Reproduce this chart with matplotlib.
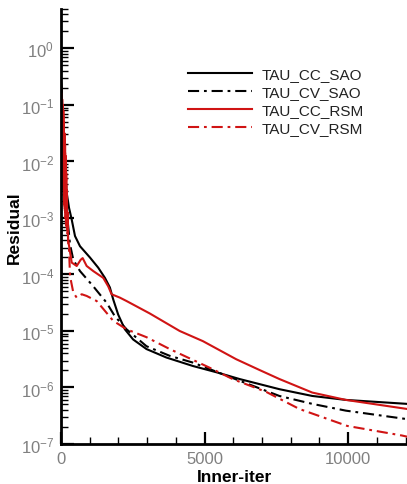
import matplotlib
matplotlib.use("Agg")
import numpy as np
import matplotlib.pyplot as plt
from matplotlib.ticker import LogLocator, MultipleLocator, NullFormatter, FixedLocator

# residual histories, read as log10(residual) at given inner iterations
it_cc_sao = [0, 17, 80, 139, 208, 278, 372, 486, 660, 1007, 1295, 1528, 1701, 1816,
             1990, 2222, 2510, 2976, 3670, 4594, 5406, 6215, 7604, 8750, 9920, 12050]
lg_cc_sao = [-0.6, -0.70, -1.62, -2.24, -2.59, -2.82, -3.03, -3.32, -3.50, -3.70, -3.88,
             -4.06, -4.23, -4.44, -4.71, -4.97, -5.15, -5.32, -5.47, -5.62, -5.73, -5.85,
             -6.03, -6.15, -6.22, -6.29]

it_cv_sao = [0, 17, 70, 139, 208, 313, 427, 660, 1122, 1587, 1875, 2281, 2976, 3785,
             4594, 6215, 7604, 8750, 9920, 12050]
lg_cv_sao = [-0.6, -0.70, -1.62, -2.41, -2.94, -3.47, -3.74, -3.94, -4.21, -4.50, -4.74,
             -4.97, -5.27, -5.44, -5.56, -5.88, -6.15, -6.29, -6.41, -6.56]

# the RSM runs oscillate strongly during the first ~250 iterations
it_cc_rsm = [0, 10, 20, 30, 40, 50, 60, 70, 80, 90, 100, 110, 120, 130, 140, 150, 160,
             170, 180, 190, 200, 215, 230, 243, 372, 545, 684, 753, 892, 1122, 1469,
             1642, 1760, 2049, 2281, 3090, 4132, 4941, 5521, 6101, 6910, 7604, 8750,
             9920, 12050]
lg_cc_rsm = [-0.65, -1.6, -0.8, -2.0, -0.9, -2.2, -1.0, -2.4, -1.1, -2.5, -1.3, -2.7,
             -1.5, -2.8, -1.7, -2.9, -1.9, -3.0, -2.2, -3.1, -2.5, -3.2, -2.9, -3.38,
             -3.79, -3.85, -3.74, -3.71, -3.85, -3.94, -4.06, -4.21, -4.35, -4.41, -4.47,
             -4.69, -5.00, -5.18, -5.34, -5.50, -5.69, -5.85, -6.09, -6.22, -6.38]

it_cv_rsm = [0, 10, 20, 30, 40, 50, 60, 70, 80, 90, 100, 110, 120, 130, 140, 150, 160,
             170, 180, 190, 200, 215, 230, 250, 278, 313, 427, 545, 719, 892, 1240,
             1587, 1816, 2281, 2976, 3785, 5174, 5972, 7153, 8299, 9965, 11875, 12050]
lg_cv_rsm = [-0.65, -1.7, -0.9, -2.1, -1.0, -2.3, -1.1, -2.5, -1.2, -2.6, -1.4, -2.8,
             -1.6, -2.9, -1.8, -3.0, -2.0, -3.1, -2.3, -3.2, -2.6, -3.3, -3.0, -3.45,
             -3.56, -4.03, -4.32, -4.41, -4.35, -4.38, -4.47, -4.68, -4.82, -4.97, -5.11,
             -5.32, -5.65, -5.85, -6.08, -6.38, -6.68, -6.85, -6.87]

labels = ["TAU_CC_SAO", "TAU_CV_SAO", "TAU_CC_RSM", "TAU_CV_RSM"]

plt.rcParams["font.family"] = ["Liberation Sans", "DejaVu Sans"]
plt.rcParams["mathtext.fontset"] = "custom"
plt.rcParams["mathtext.rm"] = "Liberation Sans"
plt.rcParams["mathtext.default"] = "regular"
plt.rcParams["lines.scale_dashes"] = False

red = "#d01414"
dashdot = (0, (8, 3.5, 2, 3.5))

fig = plt.figure(figsize=(4.07, 4.85), dpi=100)
ax = fig.add_axes([0.150, 0.0825, 0.85, 0.897])

ax.plot(it_cc_sao, 10.0 ** np.array(lg_cc_sao), color="black", lw=1.5, label=labels[0])
ax.plot(it_cv_sao, 10.0 ** np.array(lg_cv_sao), color="black", lw=1.5, ls=dashdot, label=labels[1])
ax.plot(it_cc_rsm, 10.0 ** np.array(lg_cc_rsm), color=red, lw=1.5, label=labels[2])
ax.plot(it_cv_rsm, 10.0 ** np.array(lg_cv_rsm), color=red, lw=1.5, ls=dashdot, label=labels[3])

ax.set_yscale("log")
ax.set_xlim(0, 12050)
ax.set_ylim(1e-7, 5)

ax.xaxis.set_major_locator(MultipleLocator(5000))
ax.xaxis.set_minor_locator(MultipleLocator(1000))
ax.yaxis.set_major_locator(FixedLocator([10.0 ** k for k in range(-7, 1)]))
ax.yaxis.set_minor_locator(LogLocator(base=10, subs=np.arange(2, 10)))
ax.yaxis.set_minor_formatter(NullFormatter())
ax.set_yticklabels(["10$^{%d}$" % k for k in range(-7, 1)])

for side in ["top", "right"]:
    ax.spines[side].set_visible(False)
for side in ["left", "bottom"]:
    ax.spines[side].set_linewidth(2.0)

ax.tick_params(which="major", direction="in", length=9, width=1.6,
               labelsize=12, labelcolor="#808080", pad=5)
ax.tick_params(which="minor", direction="in", length=5, width=1.0)

ax.set_xlabel("Inner-iter", fontsize=12.5, fontweight="bold")
ax.set_ylabel("Residual", fontsize=12.5, fontweight="bold")
ax.xaxis.set_label_coords(0.5, -0.058)
ax.yaxis.set_label_coords(-0.113, 0.5)

leg = ax.legend(loc="upper left", bbox_to_anchor=(0.367, 0.866), frameon=False,
                fontsize=11, handlelength=4.2, handletextpad=0.6,
                labelspacing=0.26, borderpad=0, borderaxespad=0)
for t in leg.get_texts():
    t.set_color("#222222")

fig.savefig("out.png", dpi=100)
